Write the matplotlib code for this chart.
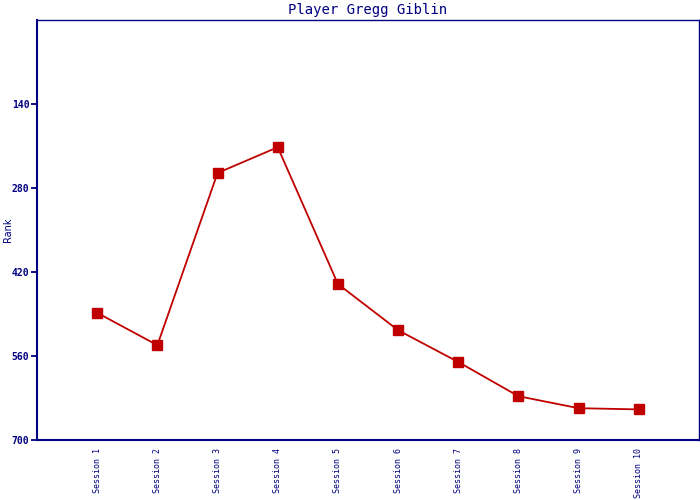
import matplotlib
matplotlib.use("Agg")
import matplotlib.pyplot as plt

sessions = ["Session %d" % i for i in range(1, 11)]
ranks = [488, 542, 255, 212, 440, 517, 570, 627, 647, 649]
yticks = [140, 280, 420, 560, 700]

navy = "#000080"
red = "#C00000"

fig = plt.figure(figsize=(7, 5), dpi=100)
ax = fig.add_axes([37/700, 60/500, 662/700, 420/500])

x = list(range(1, len(sessions) + 1))
ax.plot(x, ranks, color=red, lw=1.3, marker="s", markersize=7, markerfacecolor=red, markeredgecolor=red)

ax.set_xlim(0, 11)
ax.set_ylim(700, 0)
ax.set_xticks(x)
ax.set_xticklabels(sessions, rotation=90, family="DejaVu Sans Mono", fontsize=6, color=navy)
ax.set_yticks(yticks)
ax.set_yticklabels([str(v) for v in yticks], family="DejaVu Sans Mono", fontsize=7, color=navy, fontweight="bold")
ax.tick_params(axis="x", length=0, pad=6)
ax.tick_params(axis="y", length=4, width=1.3, color=navy, pad=1.5)

for side in ["left", "bottom"]:
    ax.spines[side].set_color(navy)
    ax.spines[side].set_linewidth(1.5)
for side in ["top", "right"]:
    ax.spines[side].set_color(navy)
    ax.spines[side].set_linewidth(1.0)

ax.set_ylabel("Rank", color=navy, fontsize=7)
ax.yaxis.set_label_coords(-0.036, 0.5)
ax.set_title("Player Gregg Giblin", family="DejaVu Sans Mono", fontsize=10, color=navy, pad=4)

fig.savefig("out.png", dpi=100)
